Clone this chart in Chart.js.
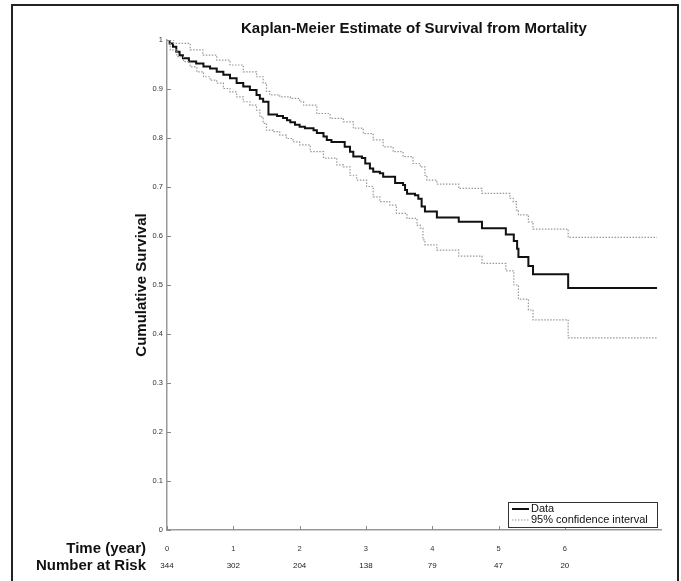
<!DOCTYPE html>
<html>
<head>
<meta charset="utf-8">
<script src="https://cdn.jsdelivr.net/npm/chart.js@4.4.1/dist/chart.umd.min.js"></script>
<style>
  html, body { margin: 0; padding: 0; background: #fff; }
  #wrap { position: relative; width: 681px; height: 581px; }
</style>
</head>
<body>
<div id="wrap"><canvas id="kmChart"></canvas></div>
<script>
// Kaplan-Meier estimate (time in years, survival proportion)
const kmTime = [0, 0.04, 0.09, 0.14, 0.19, 0.24, 0.33, 0.44, 0.55, 0.65, 0.75, 0.85, 0.95, 1.05, 1.15, 1.25, 1.35, 1.40, 1.45, 1.53, 1.66, 1.75, 1.81, 1.86, 1.93, 2.00, 2.08, 2.21, 2.26, 2.36, 2.41, 2.48, 2.68, 2.76, 2.81, 2.94, 2.99, 3.06, 3.11, 3.21, 3.26, 3.44, 3.56, 3.59, 3.62, 3.74, 3.79, 3.84, 3.89, 4.07, 4.40, 4.75, 5.11, 5.23, 5.28, 5.30, 5.45, 5.52, 6.05, 7.39];
const kmSurv = [1, 0.993, 0.986, 0.976, 0.969, 0.963, 0.956, 0.952, 0.946, 0.942, 0.935, 0.929, 0.922, 0.912, 0.905, 0.898, 0.888, 0.880, 0.874, 0.848, 0.845, 0.841, 0.836, 0.832, 0.827, 0.823, 0.820, 0.816, 0.810, 0.803, 0.796, 0.792, 0.782, 0.772, 0.762, 0.759, 0.748, 0.738, 0.731, 0.728, 0.721, 0.708, 0.704, 0.694, 0.686, 0.683, 0.676, 0.660, 0.650, 0.638, 0.629, 0.616, 0.603, 0.590, 0.574, 0.557, 0.539, 0.522, 0.494, 0.494];

// 95% confidence interval bounds
const upperTime = [0, 0.10, 0.35, 0.54, 0.75, 0.95, 1.15, 1.35, 1.45, 1.50, 1.55, 1.70, 1.86, 2.00, 2.06, 2.26, 2.46, 2.66, 2.81, 2.96, 3.11, 3.26, 3.41, 3.56, 3.71, 3.82, 3.89, 3.92, 4.07, 4.40, 4.75, 5.17, 5.22, 5.27, 5.30, 5.45, 5.52, 6.05, 7.39];
const upperSurv = [1, 0.993, 0.980, 0.969, 0.959, 0.949, 0.935, 0.925, 0.912, 0.895, 0.888, 0.884, 0.881, 0.874, 0.867, 0.850, 0.840, 0.833, 0.820, 0.809, 0.796, 0.782, 0.772, 0.762, 0.748, 0.741, 0.724, 0.714, 0.706, 0.697, 0.687, 0.677, 0.670, 0.653, 0.643, 0.629, 0.614, 0.597, 0.597];
const lowerTime = [0, 0.05, 0.15, 0.25, 0.35, 0.45, 0.55, 0.65, 0.75, 0.85, 0.95, 1.05, 1.15, 1.25, 1.35, 1.40, 1.45, 1.50, 1.60, 1.70, 1.80, 1.90, 2.00, 2.16, 2.36, 2.56, 2.66, 2.76, 2.86, 3.01, 3.11, 3.21, 3.36, 3.46, 3.62, 3.77, 3.82, 3.86, 3.89, 4.07, 4.40, 4.75, 5.11, 5.23, 5.30, 5.45, 5.52, 6.05, 7.39];
const lowerSurv = [1, 0.980, 0.966, 0.956, 0.945, 0.935, 0.925, 0.918, 0.912, 0.901, 0.894, 0.884, 0.874, 0.867, 0.857, 0.843, 0.830, 0.816, 0.813, 0.806, 0.799, 0.792, 0.786, 0.772, 0.759, 0.745, 0.741, 0.724, 0.714, 0.701, 0.680, 0.670, 0.663, 0.646, 0.636, 0.622, 0.616, 0.592, 0.582, 0.571, 0.559, 0.544, 0.529, 0.500, 0.471, 0.449, 0.429, 0.392, 0.392];

const xTicks = [0, 1, 2, 3, 4, 5, 6];
const riskTime = [0, 1, 2, 3, 4, 5, 6];
const atRisk = [344, 302, 204, 138, 79, 47, 20];

const FONT = "'Liberation Sans', Arial, Helvetica, sans-serif";
Chart.defaults.font.family = FONT;

function toPoints(ts, ss) {
  return ts.map((t, i) => ({ x: t, y: ss[i] }));
}

// outer frame of the figure
const framePlugin = {
  id: "frame",
  beforeDraw(chart) {
    const ctx = chart.ctx;
    ctx.save();
    ctx.strokeStyle = "#222";
    ctx.lineWidth = 2;
    ctx.beginPath();
    ctx.moveTo(12, 581);
    ctx.lineTo(12, 5);
    ctx.lineTo(678, 5);
    ctx.lineTo(678, 581);
    ctx.stroke();
    ctx.restore();
  }
};

// inward ticks, row labels, numbers at risk and the boxed legend
const extrasPlugin = {
  id: "extras",
  afterDraw(chart) {
    const { ctx, chartArea } = chart;
    const x = chart.scales.x, y = chart.scales.y;
    ctx.save();

    ctx.strokeStyle = "#888";
    ctx.lineWidth = 1;
    ctx.beginPath();
    x.ticks.forEach(t => {
      const px = Math.round(x.getPixelForValue(t.value)) + 0.5;
      ctx.moveTo(px, chartArea.bottom);
      ctx.lineTo(px, chartArea.bottom - 4);
    });
    y.ticks.forEach(t => {
      const py = Math.round(y.getPixelForValue(t.value)) + 0.5;
      ctx.moveTo(chartArea.left, py);
      ctx.lineTo(chartArea.left + 4, py);
    });
    ctx.stroke();

    ctx.fillStyle = "#111";
    ctx.font = "bold 15px " + FONT;
    ctx.textAlign = "right";
    ctx.textBaseline = "middle";
    ctx.fillText("Time (year)", 146, 549);
    ctx.fillText("Number at Risk", 146, 566);

    ctx.font = "8px " + FONT;
    ctx.textAlign = "center";
    ctx.fillStyle = "#222";
    riskTime.forEach((t, i) => {
      ctx.fillText(String(atRisk[i]), x.getPixelForValue(t), 566);
    });

    // legend box
    const lx = 508, ly = 502, lw = 149, lh = 25;
    ctx.fillStyle = "#fff";
    ctx.fillRect(lx, ly, lw, lh);
    ctx.strokeStyle = "#333";
    ctx.lineWidth = 1;
    ctx.strokeRect(lx + 0.5, ly + 0.5, lw, lh);
    const items = chart.data.datasets
      .filter(d => d.label)
      .sort((a, b) => a.legendOrder - b.legendOrder);
    items.forEach((d, i) => {
      const yy = ly + 7 + i * 11;
      ctx.strokeStyle = d.borderColor;
      ctx.lineWidth = d.borderWidth;
      ctx.setLineDash(d.borderDash || []);
      ctx.beginPath();
      ctx.moveTo(lx + 4, yy);
      ctx.lineTo(lx + 21, yy);
      ctx.stroke();
      ctx.setLineDash([]);
      ctx.fillStyle = "#111";
      ctx.font = "11px " + FONT;
      ctx.textAlign = "left";
      ctx.fillText(d.label, lx + 23, yy);
    });
    ctx.restore();
  }
};

new Chart(document.getElementById("kmChart"), {
  type: "line",
  data: {
    datasets: [
      {
        label: "95% confidence interval",
        legendOrder: 2,
        data: toPoints(upperTime, upperSurv),
        borderColor: "#999",
        borderWidth: 1.2,
        borderDash: [1.5, 1.5]
      },
      {
        label: "",
        data: toPoints(lowerTime, lowerSurv),
        borderColor: "#999",
        borderWidth: 1.2,
        borderDash: [1.5, 1.5]
      },
      {
        label: "Data",
        legendOrder: 1,
        data: toPoints(kmTime, kmSurv),
        borderColor: "#111",
        borderWidth: 2
      }
    ]
  },
  options: {
    responsive: true,
    maintainAspectRatio: false,
    animation: false,
    layout: { padding: { left: 120, right: 20, top: 20, bottom: 0 } },
    elements: {
      line: { stepped: true, fill: false, tension: 0 },
      point: { radius: 0 }
    },
    plugins: {
      legend: { display: false },
      tooltip: { enabled: false },
      title: {
        display: true,
        fullSize: false,
        text: "Kaplan-Meier Estimate of Survival from Mortality",
        color: "#111",
        font: { size: 15, weight: "bold" },
        padding: { top: 0, bottom: 2 }
      }
    },
    scales: {
      x: {
        type: "linear",
        min: 0,
        max: 7.45,
        afterFit: s => { s.height = 51; },
        afterBuildTicks: s => { s.ticks = xTicks.map(v => ({ value: v })); },
        border: { display: true, color: "#999", width: 1.5 },
        grid: { display: false, drawTicks: false },
        ticks: { padding: 14, color: "#333", font: { size: 7.5 }, maxRotation: 0, autoSkip: false, callback: v => String(v) }
      },
      y: {
        min: 0,
        max: 1,
        afterFit: s => { s.width = 47; },
        border: { display: true, color: "#999", width: 1.5 },
        grid: { display: false, drawTicks: false },
        ticks: { stepSize: 0.1, padding: 4, color: "#333", font: { size: 7.5 }, callback: v => String(Math.round(v * 10) / 10) },
        title: {
          display: true,
          text: "Cumulative Survival",
          color: "#111",
          font: { size: 15, weight: "bold" },
          padding: { top: 13, bottom: 0 }
        }
      }
    }
  },
  plugins: [framePlugin, extrasPlugin]
});
</script>
</body>
</html>
